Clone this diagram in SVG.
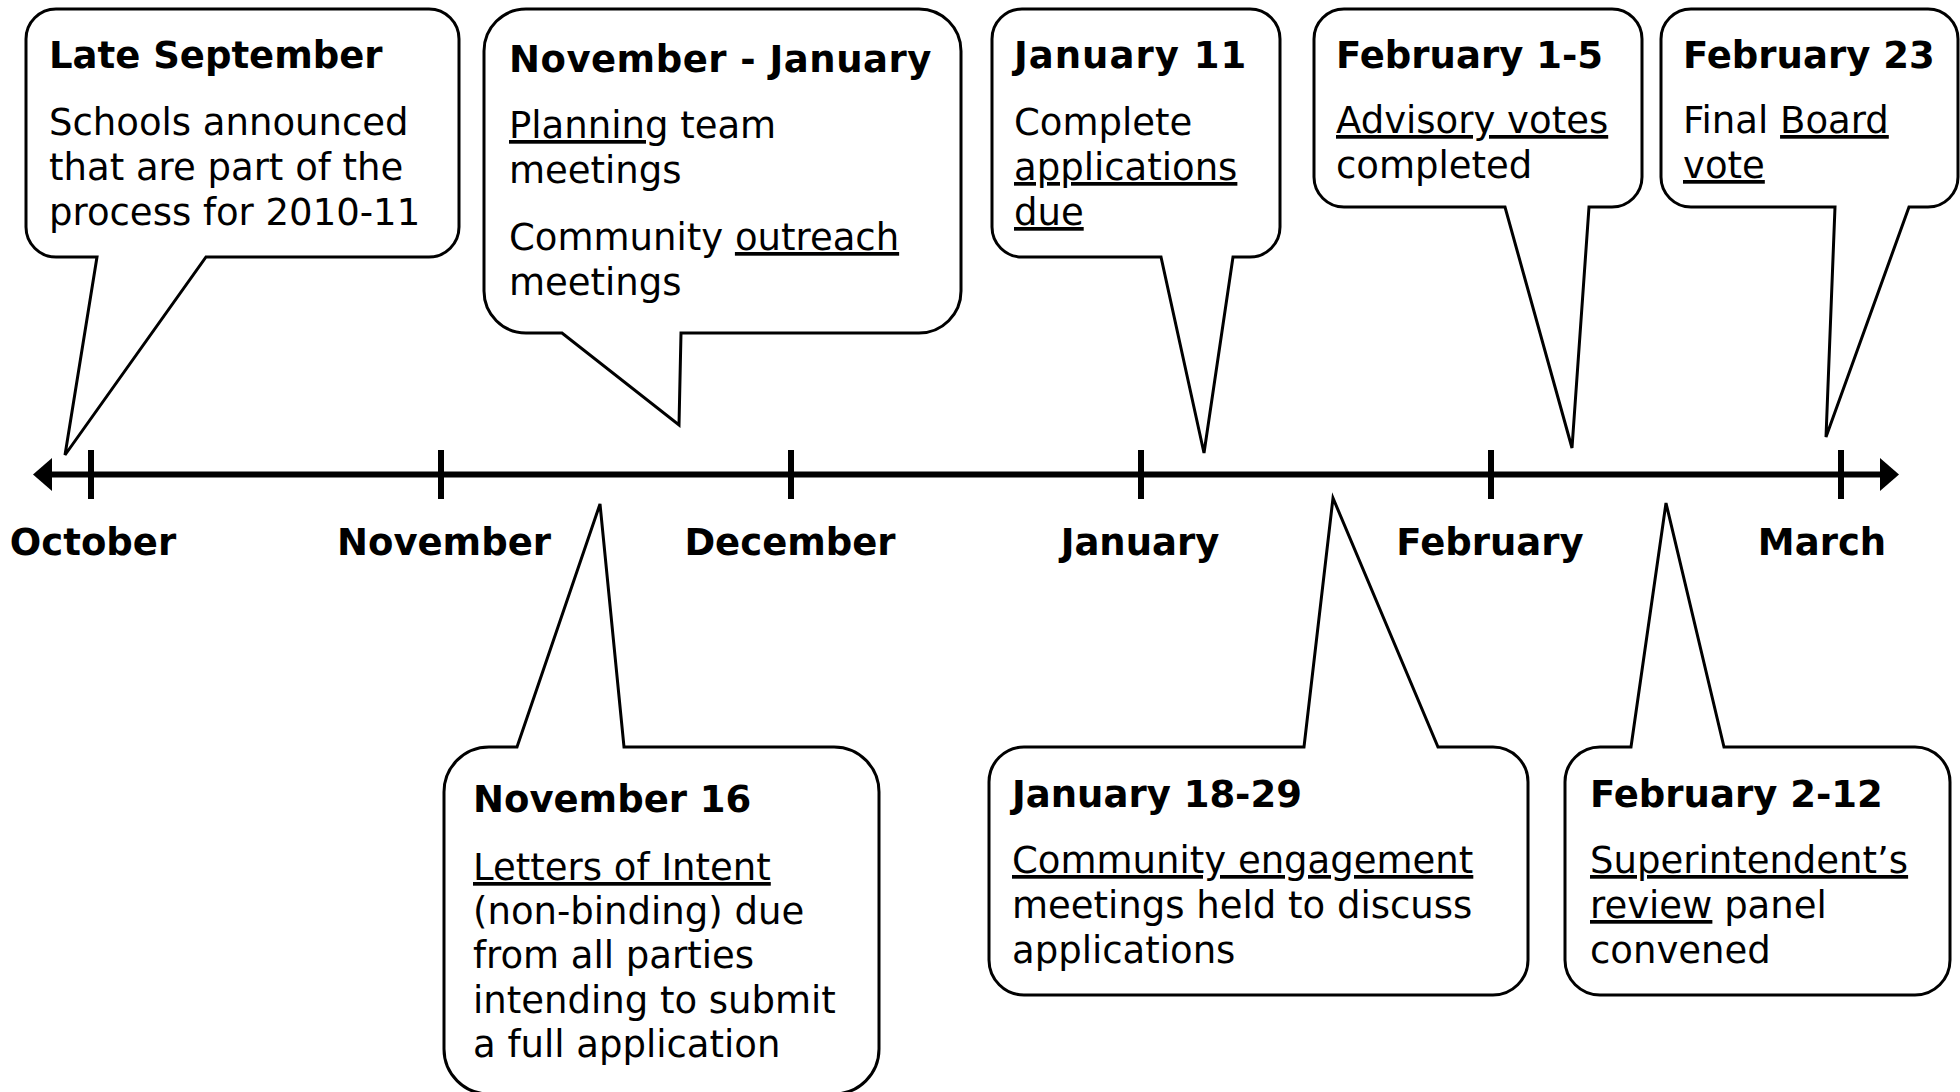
<svg xmlns="http://www.w3.org/2000/svg" width="1960" height="1092" viewBox="0 0 1960 1092">
<style>
.bubble{fill:#fff;stroke:#000;stroke-width:3;stroke-linejoin:miter}
text{font-family:"DejaVu Sans",Verdana,"Liberation Sans",sans-serif;font-size:37px;fill:#000}
.t{font-weight:bold}
.m{font-weight:bold;text-anchor:middle}
.u{text-decoration:underline}
.axis{stroke:#000;stroke-width:6;fill:none}
.tick{stroke:#000;stroke-width:6}
</style>
<defs>
<marker id="arr" viewBox="0 0 19 33" refX="0" refY="16.5" markerWidth="19" markerHeight="33" markerUnits="userSpaceOnUse" orient="auto-start-reverse">
<path d="M0,0 L19,16.5 L0,33 Z" fill="#000"/>
</marker>
</defs>
<rect width="1960" height="1092" fill="#fff"/>

<g id="timeline">
<line class="axis" x1="52" y1="474.5" x2="1880" y2="474.5" marker-start="url(#arr)" marker-end="url(#arr)"/>
<line class="tick" x1="91" y1="450" x2="91" y2="499"/>
<line class="tick" x1="441" y1="450" x2="441" y2="499"/>
<line class="tick" x1="791" y1="450" x2="791" y2="499"/>
<line class="tick" x1="1141" y1="450" x2="1141" y2="499"/>
<line class="tick" x1="1491" y1="450" x2="1491" y2="499"/>
<line class="tick" x1="1841" y1="450" x2="1841" y2="499"/>
<text class="m" x="93" y="555">October</text>
<text class="m" x="444" y="555">November</text>
<text class="m" x="790" y="555">December</text>
<text class="m" x="1140" y="555">January</text>
<text class="m" x="1490" y="555">February</text>
<text class="m" x="1822" y="555">March</text>
</g>

<g id="connectors"></g>

<g id="late-september">
<path class="bubble" d="M56,9 H429 A30,30 0 0 1 459,39 V227 A30,30 0 0 1 429,257 H206 L65,455 L97,257 H56 A30,30 0 0 1 26,227 V39 A30,30 0 0 1 56,9 Z"/>
<text class="t" x="49" y="68">Late September</text>
<text x="49" y="135">Schools announced</text>
<text x="49" y="180">that are part of the</text>
<text x="49" y="225">process for 2010-11</text>
</g>

<g id="november-january">
<path class="bubble" d="M526,9 H919 A42,42 0 0 1 961,51 V291 A42,42 0 0 1 919,333 H681 L679,425 L562,333 H526 A42,42 0 0 1 484,291 V51 A42,42 0 0 1 526,9 Z"/>
<text class="t" x="509" y="72" letter-spacing="0.5">November - January</text>
<text x="509" y="138"><tspan class="u">Planning</tspan> team</text>
<text x="509" y="183">meetings</text>
<text x="509" y="250">Community <tspan class="u">outreach</tspan></text>
<text x="509" y="295">meetings</text>
</g>

<g id="january-11">
<path class="bubble" d="M1022,9 H1250 A30,30 0 0 1 1280,39 V227 A30,30 0 0 1 1250,257 H1233 L1204,453 L1161,257 H1022 A30,30 0 0 1 992,227 V39 A30,30 0 0 1 1022,9 Z"/>
<text class="t" x="1014" y="68" letter-spacing="1">January 11</text>
<text x="1014" y="135">Complete</text>
<text x="1014" y="180"><tspan class="u">applications</tspan></text>
<text x="1014" y="225"><tspan class="u">due</tspan></text>
</g>

<g id="february-1-5">
<path class="bubble" d="M1344,9 H1612 A30,30 0 0 1 1642,39 V177 A30,30 0 0 1 1612,207 H1589 L1572,448 L1505,207 H1344 A30,30 0 0 1 1314,177 V39 A30,30 0 0 1 1344,9 Z"/>
<text class="t" x="1336" y="68">February 1-5</text>
<text x="1336" y="133"><tspan class="u">Advisory votes</tspan></text>
<text x="1336" y="178">completed</text>
</g>

<g id="february-23">
<path class="bubble" d="M1691,9 H1928 A30,30 0 0 1 1958,39 V177 A30,30 0 0 1 1928,207 H1909 L1826,437 L1835,207 H1691 A30,30 0 0 1 1661,177 V39 A30,30 0 0 1 1691,9 Z"/>
<text class="t" x="1683" y="68">February 23</text>
<text x="1683" y="133">Final <tspan class="u">Board</tspan></text>
<text x="1683" y="178"><tspan class="u">vote</tspan></text>
</g>

<g id="november-16">
<path class="bubble" d="M489,747 H517 L600,504 L624,747 H834 A45,45 0 0 1 879,792 V1049 A45,45 0 0 1 834,1094 H489 A45,45 0 0 1 444,1049 V792 A45,45 0 0 1 489,747 Z"/>
<text class="t" x="473" y="812">November 16</text>
<text x="473" y="880"><tspan class="u">Letters of Intent</tspan></text>
<text x="473" y="924">(non-binding) due</text>
<text x="473" y="968">from all parties</text>
<text x="473" y="1013">intending to submit</text>
<text x="473" y="1057">a full application</text>
</g>

<g id="january-18-29">
<path class="bubble" d="M1024,747 H1304 L1333,498 L1438,747 H1493 A35,35 0 0 1 1528,782 V960 A35,35 0 0 1 1493,995 H1024 A35,35 0 0 1 989,960 V782 A35,35 0 0 1 1024,747 Z"/>
<text class="t" x="1012" y="807">January 18-29</text>
<text x="1012" y="873"><tspan class="u">Community engagement</tspan></text>
<text x="1012" y="918">meetings held to discuss</text>
<text x="1012" y="963">applications</text>
</g>

<g id="february-2-12">
<path class="bubble" d="M1600,747 H1631 L1666,503 L1724,747 H1915 A35,35 0 0 1 1950,782 V960 A35,35 0 0 1 1915,995 H1600 A35,35 0 0 1 1565,960 V782 A35,35 0 0 1 1600,747 Z"/>
<text class="t" x="1590" y="807">February 2-12</text>
<text x="1590" y="873"><tspan class="u">Superintendent’s</tspan></text>
<text x="1590" y="918"><tspan class="u">review</tspan> panel</text>
<text x="1590" y="963">convened</text>
</g>
</svg>
